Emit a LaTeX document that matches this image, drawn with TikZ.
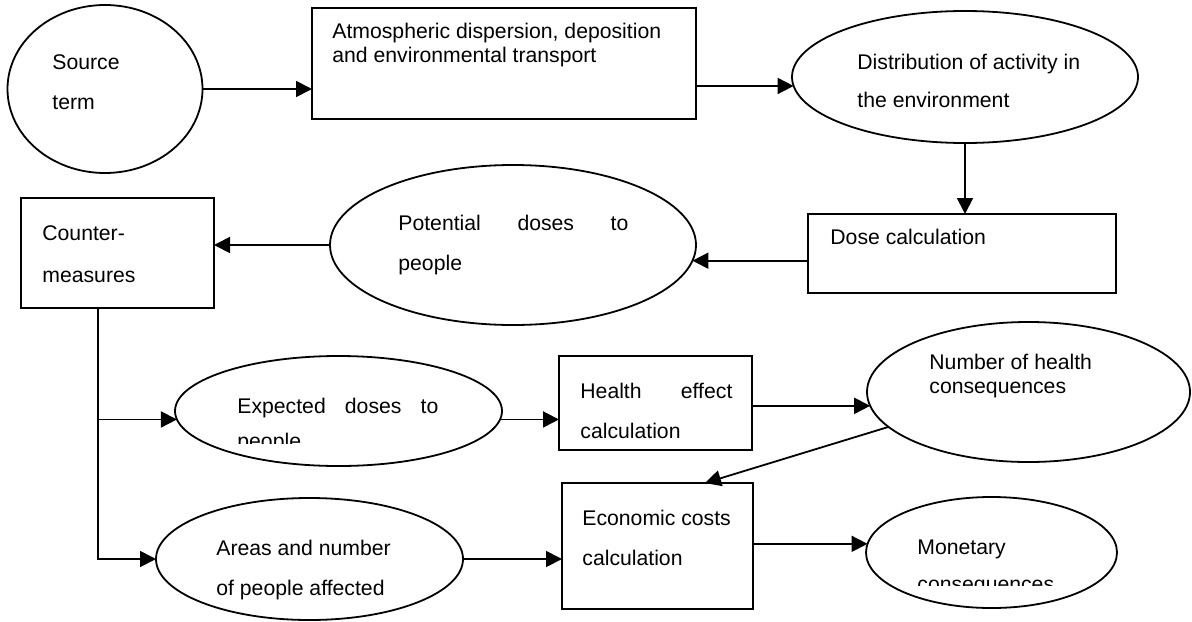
\documentclass[tikz,border=0pt]{standalone}
\usepackage{fontspec}
\setmainfont{Liberation Sans}
\usetikzlibrary{shapes.geometric,arrows.meta}

\begin{document}
\begin{tikzpicture}[
    x=0.5pt, y=-0.5pt,
    ellbox/.style={ellipse, draw, line width=0.9pt, inner sep=0pt, outer sep=0pt},
    rectbox/.style={rectangle, draw, line width=0.9pt, inner sep=0pt, outer sep=0pt},
    txt/.style={anchor=base west, inner sep=0pt, align=left, font=\fontsize{10.6}{20}\selectfont},
    txttight/.style={txt, font=\fontsize{10.6}{11.8}\selectfont},
    arrow/.style={-{Triangle[length=8pt,width=8pt]}, line width=0.9pt}
]
\useasboundingbox (0,0) rectangle (1192,621);

% Row 1: source and transport
\node[ellbox, minimum width=97.5pt, minimum height=84pt] (src) at (105,89) {};
\node[rectbox, minimum width=192pt, minimum height=55.5pt] (atm) at (504,63.5) {};
\node[ellbox, minimum width=173pt, minimum height=66pt] (dist) at (965,77) {};

% Row 2: doses and countermeasures
\node[rectbox, minimum width=154pt, minimum height=39.5pt] (dose) at (962,253.5) {};
\node[ellbox, minimum width=183pt, minimum height=80pt] (pot) at (513,245) {};
\node[rectbox, minimum width=96.5pt, minimum height=55pt] (cm) at (117.5,253) {};

% Row 3: health
\node[ellbox, minimum width=163.5pt, minimum height=55pt] (exp) at (338.5,411) {};
\node[rectbox, minimum width=96.5pt, minimum height=47pt] (hea) at (655.5,403) {};
\node[ellbox, minimum width=161.5pt, minimum height=70pt] (num) at (1028.5,392) {};

% Row 4: economics
\node[ellbox, minimum width=153.5pt, minimum height=61pt] (area) at (309.5,559) {};
\node[rectbox, minimum width=95.5pt, minimum height=63pt] (eco) at (657.5,546) {};
\node[ellbox, minimum width=125.5pt, minimum height=55.5pt] (mon) at (991.5,552.5) {};

% Texts (base = last line)
\node[txt] (src-txt) at (52,109) {Source\\term};
\node[txttight] (atm-txt) at (332,62) {Atmospheric dispersion, deposition\\and environmental transport};
\node[txt, font=\fontsize{10.6}{19}\selectfont] (dist-txt) at (857,107) {Distribution of activity in\\the environment};
\node[txt] (dose-txt) at (830,244) {Dose calculation};
\node[txt] (pot-txt) at (398,270) {\makebox[115pt][s]{Potential doses to}\\people};
\node[txt, font=\fontsize{10.6}{21}\selectfont] (cm-txt) at (42,282) {Counter-\\measures};
\node[txt] (exp-txt) at (237,413) {\makebox[100.5pt][s]{Expected doses to}};
\begin{scope}
  \clip (200,420) rectangle (480,443);
  \node[txt] (exp-txt2) at (237,448) {people};
\end{scope}
\node[txt] (hea-txt) at (580,438) {\makebox[76pt][s]{Health effect}\\calculation};
\node[txttight] (num-txt) at (929,393) {Number of health\\consequences};
\node[txt] (area-txt) at (216,595) {Areas and number\\of people affected};
\node[txt] (eco-txt) at (582,565) {Economic costs\\calculation};
\node[txt] (mon-txt) at (917,554) {Monetary};
\begin{scope}
  \clip (880,565) rectangle (1100,585);
  \node[txt] (mon-txt2) at (917,591) {consequences};
\end{scope}

% Arrows
\draw[arrow] (src.east) -- (src.east -| atm.west);
\draw[arrow] (atm.east |- dist.183) -- (dist.183);
\draw[arrow] (dist.south) -- (dist.south |- dose.north);
\draw[arrow] (dose.west |- pot.355) -- (pot.355);
\draw[arrow] (pot.west) -- (pot.west -| cm.east);
\coordinate (cm-foot) at ([xshift=38.5pt]cm.south west);
\draw[arrow] (cm-foot) |- (area.west);
\draw[arrow] (cm-foot |- exp.183) -- (exp.183);
\draw[arrow] (exp.357) -- (exp.357 -| hea.west);
\draw[arrow] (hea.east |- num.185) -- (num.185);
\draw[arrow] (num.194) -- (eco.53);
\draw[arrow] (area.east) -- (area.east -| eco.west);
\draw[arrow] (eco.east |- mon.176) -- (mon.176);

\end{tikzpicture}
\end{document}
